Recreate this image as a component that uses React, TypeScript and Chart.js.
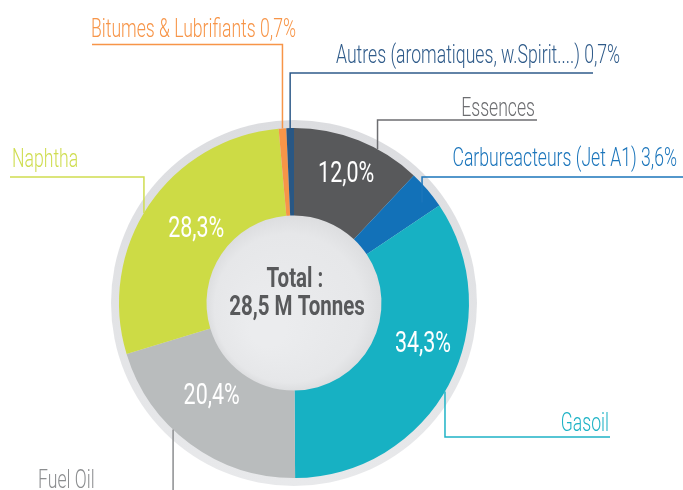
import { useEffect, useRef } from "react";
import { Chart, registerables } from "chart.js";

Chart.register(...registerables);

// ---- data ----
const categories = [
  "Essences",
  "Carbureacteurs (Jet A1)",
  "Gasoil",
  "Fuel Oil",
  "Naphtha",
  "Bitumes & Lubrifiants",
  "Autres (aromatiques, w.Spirit....)",
];
const shares = [12.0, 3.6, 34.3, 20.4, 28.3, 0.7, 0.7];
const showPctOutside = [false, true, false, false, false, true, true];
const showPctInside = [true, false, true, true, true, false, false];
const centerLines = ["Total :", "28,5 M Tonnes"];

// ---- styles ----
const sliceColors = ["#58595b", "#1271b8", "#17b1c3", "#b9bcbd", "#cddb45", "#f79548", "#285784"];
const labelColors = ["#6d6e71", "#1b75bb", "#1fb3c6", "#8c8e90", "#cfdd50", "#f79548", "#2f5b8a"];

const LEADERS = [
  { frac: 0.66, rr: 1.0, lineY: 120, endX: 537, textX: 535, align: "right", textY: 116 },
  { frac: 0.67, rr: 0.93, lineY: 177, endX: 683, textX: 677, align: "right", textY: 166 },
  { frac: 0.52, rr: 1.0, lineY: 437, endX: 610, textX: 609, align: "right", textY: 431 },
  { frac: 0.6, rr: 1.0, lineY: 500, endX: 30, textX: 38, align: "left", textY: 488 },
  { frac: 0.47, rr: 1.0, lineY: 177, endX: 10, textX: 12, align: "left", textY: 167 },
  { frac: 0.5, rr: 1.0, lineY: 44.5, endX: 92, textX: 91, align: "left", textY: 37 },
  { frac: 0.5, rr: 1.0, lineY: 73, endX: 593, textX: 336, align: "left", textY: 63 },
];
const INSIDE = [
  { frac: 0.5, rr: 0.81 },
  { frac: 0.5, rr: 0.75 },
  { frac: 0.41, rr: 0.77 },
  { frac: 0.58, rr: 0.7 },
  { frac: 0.54, rr: 0.71 },
  { frac: 0.5, rr: 0.75 },
  { frac: 0.5, rr: 0.75 },
];
const LABEL_CONDENSE = 0.705;
const INNER_CONDENSE = 0.74;
const CENTER_CONDENSE = 0.76;
const FONT = "Roboto, 'Noto Sans', sans-serif";

const fmt = (v: number) => v.toFixed(1).replace(".", ",") + "%";

function drawCondensed(
  ctx: CanvasRenderingContext2D,
  text: string,
  x: number,
  y: number,
  align: CanvasTextAlign,
  k: number
) {
  ctx.save();
  ctx.translate(x, y);
  ctx.scale(k, 1);
  ctx.textAlign = align;
  ctx.textBaseline = "alphabetic";
  ctx.fillText(text, 0, 0);
  ctx.restore();
}

function pointOnArc(arc: any, frac: number, rr: number) {
  const a = arc.startAngle + (arc.endAngle - arc.startAngle) * frac;
  const r = arc.outerRadius * rr;
  return { x: arc.x + Math.cos(a) * r, y: arc.y + Math.sin(a) * r };
}

const decorPlugin = {
  id: "decor",
  beforeDatasetsDraw(chart: any) {
    const meta = chart.getDatasetMeta(0);
    const arc = meta.data[0];
    if (!arc) return;
    const { x, y, outerRadius, innerRadius } = arc;
    const ctx = chart.ctx as CanvasRenderingContext2D;
    ctx.save();
    const g = ctx.createLinearGradient(0, y - outerRadius - 8, 0, y + outerRadius + 8);
    g.addColorStop(0, "#dcdde0");
    g.addColorStop(1, "#e8e9eb");
    ctx.fillStyle = g;
    ctx.beginPath();
    ctx.arc(x, y, outerRadius + 8, 0, Math.PI * 2);
    ctx.fill();
    ctx.restore();
    // inner disc
    ctx.save();
    const rg = ctx.createRadialGradient(
      x - innerRadius * 0.3,
      y + innerRadius * 0.3,
      innerRadius * 0.2,
      x,
      y,
      innerRadius + 1
    );
    rg.addColorStop(0, "#ebecee");
    rg.addColorStop(0.8, "#e6e7e9");
    rg.addColorStop(1, "#dcdddf");
    ctx.fillStyle = rg;
    ctx.beginPath();
    ctx.arc(x, y, innerRadius + 1, 0, Math.PI * 2);
    ctx.fill();
    ctx.restore();
  },
  afterDatasetsDraw(chart: any) {
    const meta = chart.getDatasetMeta(0);
    const ctx = chart.ctx as CanvasRenderingContext2D;
    const arcs = meta.data;
    if (!arcs.length) return;

    // leader lines + outside labels
    arcs.forEach((arc: any, i: number) => {
      const L = LEADERS[i];
      const p = pointOnArc(arc, L.frac, L.rr);
      ctx.save();
      ctx.strokeStyle = labelColors[i];
      ctx.lineWidth = 1.5;
      ctx.beginPath();
      ctx.moveTo(p.x, p.y);
      ctx.lineTo(p.x, L.lineY);
      ctx.lineTo(L.endX, L.lineY);
      ctx.stroke();
      ctx.fillStyle = labelColors[i];
      ctx.font = `300 25px ${FONT}`;
      const txt = categories[i] + (showPctOutside[i] ? " " + fmt(shares[i]) : "");
      drawCondensed(ctx, txt, L.textX, L.textY, L.align as CanvasTextAlign, LABEL_CONDENSE);
      ctx.restore();
    });

    // inside percentages
    arcs.forEach((arc: any, i: number) => {
      if (!showPctInside[i]) return;
      const P = INSIDE[i];
      const p = pointOnArc(arc, P.frac, P.rr);
      ctx.save();
      ctx.fillStyle = "#ffffff";
      ctx.font = `400 29px ${FONT}`;
      drawCondensed(ctx, fmt(shares[i]), p.x, p.y + 10.5, "center", INNER_CONDENSE);
      ctx.restore();
    });

    // centre text
    const c = arcs[0];
    ctx.save();
    ctx.fillStyle = "#58595b";
    ctx.font = `700 27px ${FONT}`;
    drawCondensed(ctx, centerLines[0], c.x + 1, c.y - 16, "center", CENTER_CONDENSE);
    drawCondensed(ctx, centerLines[1], c.x + 3, c.y + 12, "center", CENTER_CONDENSE);
    ctx.restore();
  },
};

export default function App() {
  const ref = useRef<HTMLCanvasElement | null>(null);
  useEffect(() => {
    if (!ref.current) return;
    const chart = new Chart(ref.current, {
      type: "doughnut",
      data: {
        labels: categories,
        datasets: [
          {
            data: shares,
            backgroundColor: sliceColors,
            borderWidth: 0,
            hoverOffset: 0,
          },
        ],
      },
      options: {
        responsive: false,
        animation: false,
        cutout: "50%",
        rotation: 0,
        layout: { padding: { left: 119, right: 214, top: 128, bottom: 12 } },
        plugins: {
          legend: { display: false },
          tooltip: { enabled: false },
          title: { display: false },
        },
        events: [],
      },
      plugins: [decorPlugin],
    });
    return () => chart.destroy();
  }, []);
  return (
    <div style={{ position: "fixed", left: 0, top: 0, width: 683, height: 490, background: "#ffffff" }}>
      <canvas ref={ref} width={683} height={490} style={{ display: "block", width: 683, height: 490 }} />
    </div>
  );
}
